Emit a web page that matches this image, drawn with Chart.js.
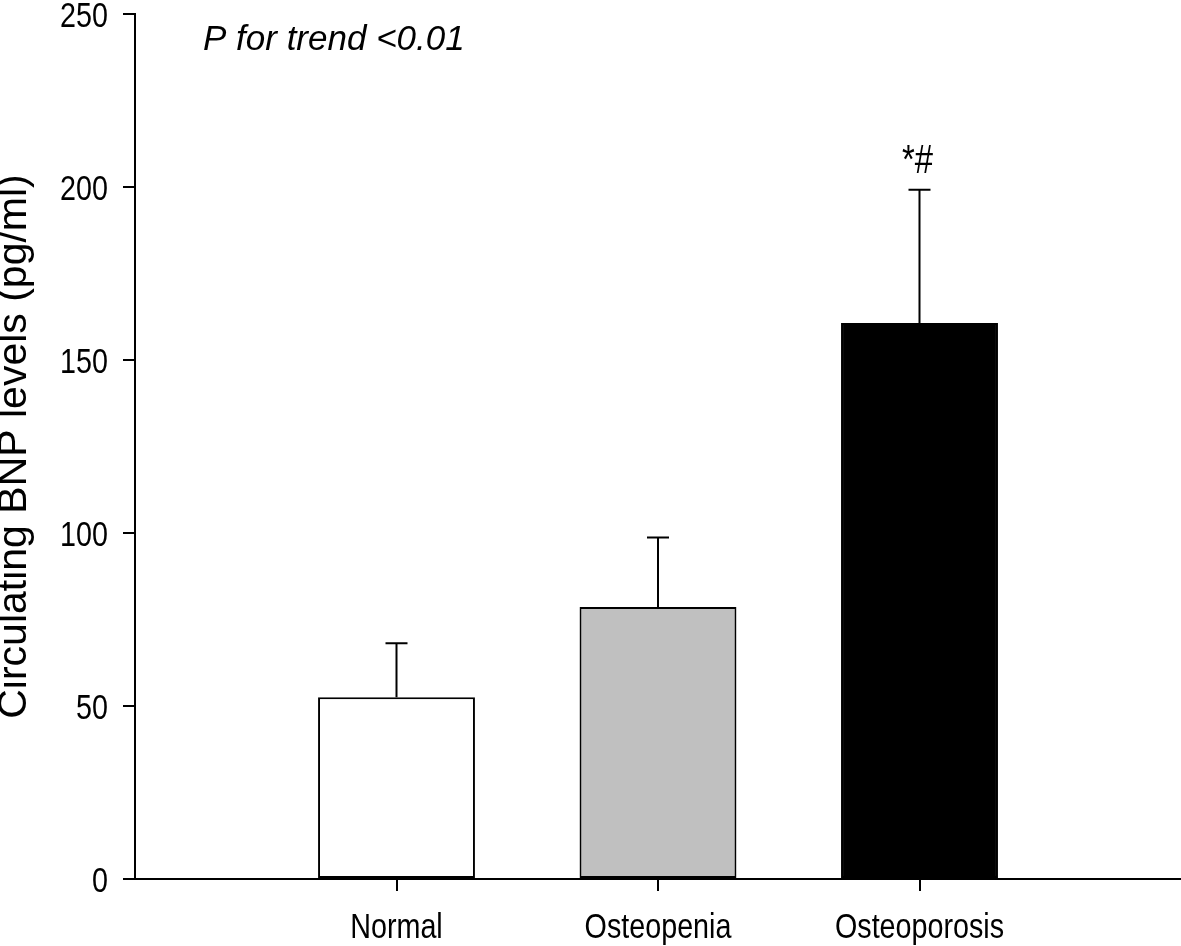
<!DOCTYPE html>
<html>
<head>
<meta charset="utf-8">
<script src="https://cdn.jsdelivr.net/npm/chart.js@4.4.0/dist/chart.umd.min.js"></script>
<style>
  body { margin: 0; background: #fff; }
  #wrap { width: 1181px; height: 946px; }
</style>
</head>
<body>
<div id="wrap"><canvas id="chart"></canvas></div>
<script>
// values
const categories = ['Normal', 'Osteopenia', 'Osteoporosis'];
const bnpMean = [52.5, 78.6, 160.7];
const bnpError = [15.6, 20.1, 38.5];
const barColors = ['#ffffff', '#c0c0c0', '#000000'];
const marks = ['', '', '*#'];
const yTicks = [0, 50, 100, 150, 200, 250];

const regular = "'Liberation Sans', Arial, sans-serif";
const NARROW = 0.82; // Arial Narrow look: squeeze Liberation Sans horizontally

function narrowText(ctx, text, x, y, align) {
  ctx.save();
  ctx.translate(x, y);
  ctx.scale(NARROW, 1);
  ctx.textAlign = align;
  ctx.fillText(text, 0, 0);
  ctx.restore();
}

const labels = {
  id: 'labels',
  afterDraw(chart) {
    const { ctx, scales: { x, y } } = chart;
    ctx.save();
    ctx.fillStyle = '#000';
    ctx.textBaseline = 'alphabetic';
    ctx.font = '35px ' + regular;
    yTicks.forEach(v => narrowText(ctx, String(v), x.left - 27, y.getPixelForValue(v) + 12.5, 'right'));
    categories.forEach((c, i) => narrowText(ctx, c, x.getPixelForValue(i + 1), y.bottom + 59, 'center'));
    ctx.restore();
  }
};

const errorBars = {
  id: 'errorBars',
  afterDatasetsDraw(chart) {
    const { ctx, scales: { x, y } } = chart;
    const meta = chart.getDatasetMeta(0);
    ctx.save();
    ctx.strokeStyle = '#000';
    ctx.lineWidth = 2;
    meta.data.forEach((bar, i) => {
      const top = y.getPixelForValue(bnpMean[i] + bnpError[i]);
      ctx.beginPath();
      ctx.moveTo(bar.x, bar.y);
      ctx.lineTo(bar.x, top);
      ctx.moveTo(bar.x - 11, top);
      ctx.lineTo(bar.x + 11, top);
      ctx.stroke();
      if (marks[i]) {
        ctx.fillStyle = '#000';
        ctx.font = '40px ' + regular;
        ctx.textBaseline = 'alphabetic';
        narrowText(ctx, marks[i], bar.x - 2, top - 17, 'center');
      }
    });
    // trend annotation
    ctx.fillStyle = '#000';
    ctx.font = 'italic 35px ' + regular;
    ctx.textAlign = 'left';
    ctx.textBaseline = 'alphabetic';
    ctx.fillText('P for trend <0.01', x.getPixelForValue(0.26), y.getPixelForValue(239.7));
    ctx.restore();
  }
};

new Chart(document.getElementById('chart'), {
  type: 'bar',
  data: {
    datasets: [{
      data: categories.map((c, i) => ({ x: i + 1, y: bnpMean[i] })),
      backgroundColor: barColors,
      borderColor: '#000',
      borderWidth: 2,
      borderSkipped: false,
      categoryPercentage: 1,
      barPercentage: 0.6,
    }],
  },
  options: {
    responsive: true,
    maintainAspectRatio: false,
    animation: false,
    layout: { padding: 0 },
    plugins: { legend: { display: false }, tooltip: { enabled: false } },
    scales: {
      x: {
        type: 'linear',
        offset: false,
        min: 0,
        max: categories.length + 1,
        afterBuildTicks: (scale) => { scale.ticks = categories.map((c, i) => ({ value: i + 1 })); },
        afterFit: (scale) => { scale.height = 67; scale.paddingLeft = 0; scale.paddingRight = 0; },
        ticks: { display: false },
        grid: { offset: false, drawOnChartArea: false, color: '#000', lineWidth: 2, tickLength: 12 },
        border: { color: '#000', width: 2 },
      },
      y: {
        min: 0,
        max: 250,
        afterBuildTicks: (scale) => { scale.ticks = yTicks.map(v => ({ value: v })); },
        afterFit: (scale) => { scale.width = 135; scale.paddingTop = 14; scale.paddingBottom = 0; },
        ticks: { display: false },
        grid: { drawOnChartArea: false, color: '#000', lineWidth: 2, tickLength: 12 },
        border: { color: '#000', width: 2 },
        title: {
          display: true,
          text: 'Circulating BNP levels (pg/ml)',
          color: '#000',
          font: { family: regular, size: 41, lineHeight: 0.7 },
          padding: 0,
        },
      },
    },
  },
  plugins: [errorBars, labels],
});
</script>
</body>
</html>
